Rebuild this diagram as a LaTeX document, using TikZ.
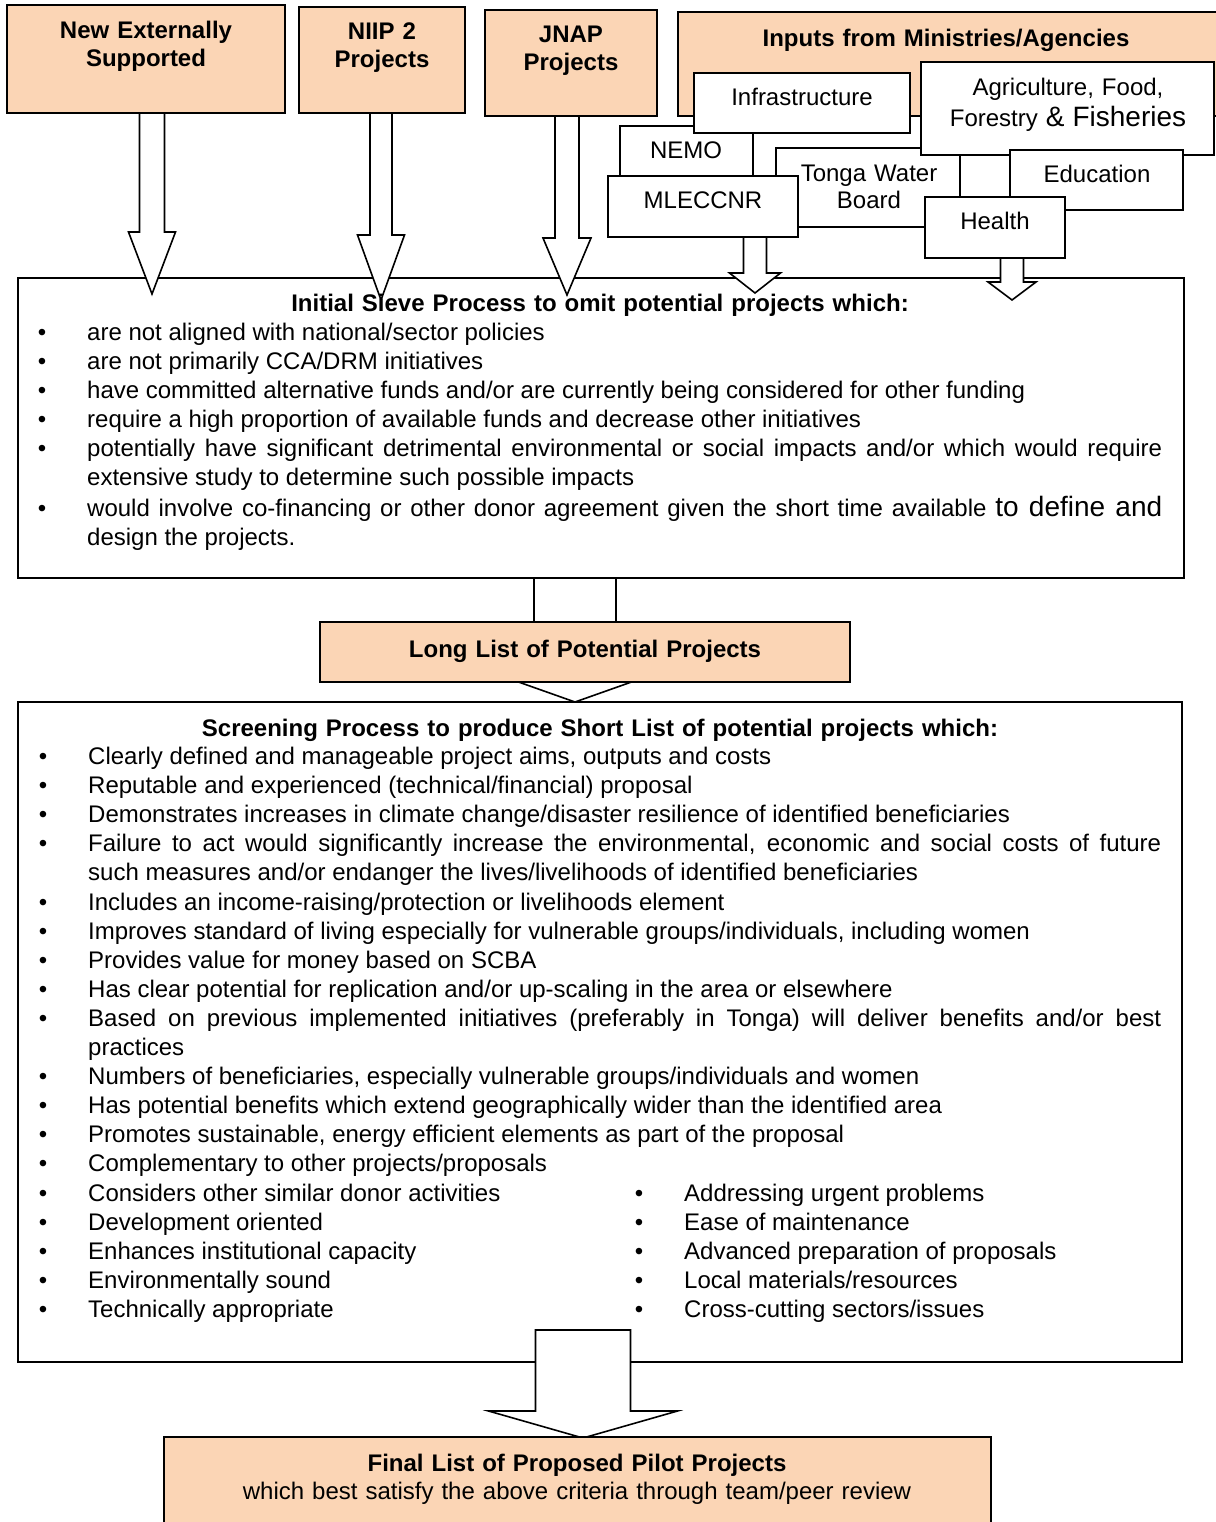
\documentclass[tikz,border=0pt]{standalone}
\usepackage{fontspec}
\setmainfont{Liberation Sans}
\usetikzlibrary{calc,positioning}

\definecolor{peach}{RGB}{251,213,181}

% bullet hanging 45pt left of the item text
\newcommand\bul{\leavevmode\llap{\textbullet\hspace{41pt}}}

% block arrow: start (box bottom), tip, half shaft, half head, head length
\newcommand\blockarrow[5]{%
  \draw[blockarr] ($(#2 |- #1)+(-#3,0)$) -- ($(#2)+(-#3,-#5)$) -- ($(#2)+(-#4,-#5)$)
    -- (#2) -- ($(#2)+(#4,-#5)$) -- ($(#2)+(#3,-#5)$) -- ($(#2 |- #1)+(#3,0)$) -- cycle;}

\tikzset{
  box/.style={draw, line width=1.6pt, fill=white, inner sep=0pt, outer sep=0pt, anchor=north west},
  peachbox/.style={box, fill=peach},
  hd/.style={font=\fontsize{24}{28.5}\selectfont\bfseries, inner sep=0pt, anchor=base, text width=820pt, align=center},
  txt/.style={font=\fontsize{24}{27}\selectfont, inner sep=0pt, anchor=base, text width=820pt, align=center},
  listtxt/.style={font=\fontsize{24}{29}\selectfont, inner sep=0pt, anchor=base west, align=justify},
  blockarr/.style={draw, line width=1.6pt, fill=white, line join=miter},
}

\begin{document}
\begin{tikzpicture}[x=1pt, y=-1pt]
\useasboundingbox (0,0) rectangle (1215,1522);

% sources
\node[peachbox, minimum width=278pt, minimum height=108pt] (nes) at (7,5) {};
\node[peachbox, minimum width=166pt, minimum height=106pt] (niip) at (299,7) {};
\node[peachbox, minimum width=172pt, minimum height=106pt] (jnap) at (485,10) {};
\node[peachbox, minimum width=540pt, minimum height=104pt] (inputs) at (678,12) {};

% ministries / agencies
\node[box, minimum width=133pt, minimum height=90pt] (nemo) at (620,126) {};
\node[box, minimum width=184pt, minimum height=79pt] (twb) at (776,148) {};
\node[box, minimum width=216pt, minimum height=60pt] (infra) at (694,73) {};
\node[box, minimum width=190pt, minimum height=61pt] (mle) at (608,176) {};
\node[box, minimum width=293pt, minimum height=93pt] (agri) at (921,62) {};
\node[box, minimum width=173pt, minimum height=60pt] (edu) at (1010,150) {};
\node[box, minimum width=140pt, minimum height=61pt] (health) at (925,197) {};

% process boxes
\node[box, minimum width=1166pt, minimum height=300pt] (sieve) at (18,278) {};
\node[box, minimum width=1164pt, minimum height=660pt] (screen) at (18,702) {};

\coordinate (tipA) at (152,294);
\coordinate (tipB) at (381,300);
\coordinate (tipC) at (567,295);
\coordinate (tipD) at (755,293);
\coordinate (tipE) at (1012,300);
\coordinate (tipF) at (575,702);
\coordinate (finTop) at (583,1330);
\coordinate (tipG) at (583,1438);

\blockarrow{nes.south}{tipA}{12.5}{23.5}{62}
\blockarrow{niip.south}{tipB}{11}{23.5}{65}
\blockarrow{jnap.south}{tipC}{12}{24}{57}
\blockarrow{mle.south}{tipD}{11.5}{25.5}{20}
\blockarrow{health.south}{tipE}{11.5}{24}{18}
\blockarrow{sieve.south}{tipF}{41}{56.5}{20}
\blockarrow{finTop}{tipG}{47.5}{94.5}{27}

\node[peachbox, minimum width=530pt, minimum height=60pt] (long) at (320,622) {};
\node[peachbox, minimum width=827pt, minimum height=110pt] (final) at (164,1437) {};

% labels
\node[hd] (nesT) at (146,38.5) {New Externally\\Supported};
\node[hd] (niipT) at (382,39.5) {NIIP 2\\Projects};
\node[hd] (jnapT) at (571,42.5) {JNAP\\Projects};
\node[hd] (inputsT) at (946,46.5) {Inputs from Ministries/Agencies};
\node[txt] (infraT) at (802,105.5) {Infrastructure};
\node[txt] (agriT) at (1068,95.5) {Agriculture, Food,\\[4pt]Forestry {\fontsize{28}{30}\selectfont\& Fisheries}};
\node[txt] (nemoT) at (686,158.5) {NEMO};
\node[txt] (mleT) at (703,208.5) {MLECCNR};
\node[txt] (twbT) at (869,181.5) {Tonga Water\\Board};
\node[txt] (eduT) at (1097,182.5) {Education};
\node[txt] (healthT) at (995,229.5) {Health};

\node[hd] (sieveT) at (600,311.5) {Initial Sieve Process to omit potential projects which:};
\node[listtxt, text width=1075pt] (sieveL) at (87,340) {%
\bul are not aligned with national/sector policies\par
\bul are not primarily CCA/DRM initiatives\par
\bul have committed alternative funds and/or are currently being considered for other funding\par
\bul require a high proportion of available funds and decrease other initiatives\par
\bul potentially have significant detrimental environmental or social impacts and/or which would require\linebreak extensive study to determine such possible impacts\par
\vspace{2pt}%
\bul would involve co-financing or other donor agreement given the short time available {\fontsize{28}{29}\selectfont to define and}\linebreak design the projects.};

\node[hd] (longT) at (585,657.5) {Long List of Potential Projects};

\node[hd] (screenT) at (600,736.5) {Screening Process to produce Short List of potential projects which:};
\node[listtxt, text width=1073pt, font=\fontsize{24}{29.1}\selectfont] (screenL) at (88,764.5) {%
\bul Clearly defined and manageable project aims, outputs and costs\par
\bul Reputable and experienced (technical/financial) proposal\par
\bul Demonstrates increases in climate change/disaster resilience of identified beneficiaries\par
\bul Failure to act would significantly increase the environmental, economic and social costs of future\linebreak such measures and/or endanger the lives/livelihoods of identified beneficiaries\par
\bul Includes an income-raising/protection or livelihoods element\par
\bul Improves standard of living especially for vulnerable groups/individuals, including women\par
\bul Provides value for money based on SCBA\par
\bul Has clear potential for replication and/or up-scaling in the area or elsewhere\par
\bul Based on previous implemented initiatives (preferably in Tonga) will deliver benefits and/or best\linebreak practices\par
\bul Numbers of beneficiaries, especially vulnerable groups/individuals and women\par
\bul Has potential benefits which extend geographically wider than the identified area\par
\bul Promotes sustainable, energy efficient elements as part of the proposal\par
\bul Complementary to other projects/proposals\par
\bul\makebox[596pt][l]{Considers other similar donor activities}\bul Addressing urgent problems\par
\bul\makebox[596pt][l]{Development oriented}\bul Ease of maintenance\par
\bul\makebox[596pt][l]{Enhances institutional capacity}\bul Advanced preparation of proposals\par
\bul\makebox[596pt][l]{Environmentally sound}\bul Local materials/resources\par
\bul\makebox[596pt][l]{Technically appropriate}\bul Cross-cutting sectors/issues};

\node[txt, font=\fontsize{24}{28}\selectfont] (finalT) at (577,1471.5) {\textbf{Final List of Proposed Pilot Projects}\\which best satisfy the above criteria through team/peer review};
\end{tikzpicture}
\end{document}
